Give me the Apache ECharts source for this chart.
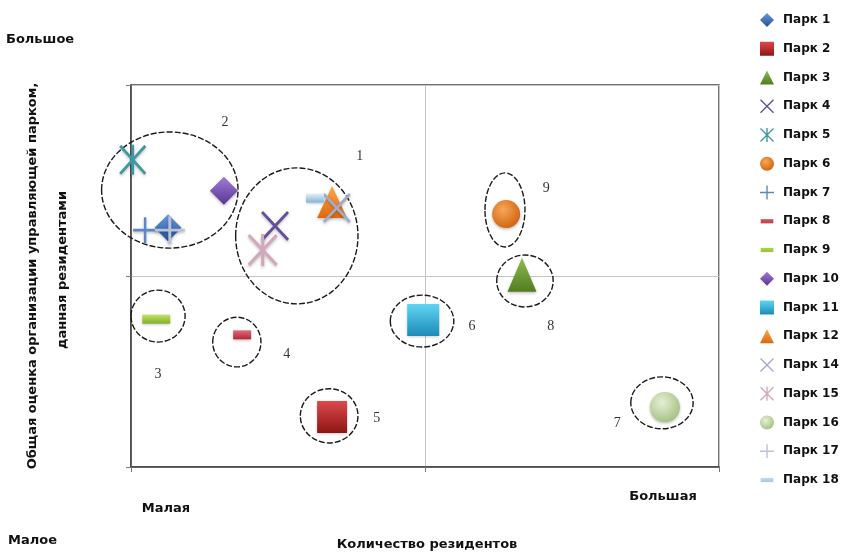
<!DOCTYPE html>
<html>
<head>
<meta charset="utf-8">
<script src="https://cdn.jsdelivr.net/npm/echarts@6/dist/echarts.min.js"></script>
<style>
  html, body { margin: 0; background: #fff; }
  #chart { width: 848px; height: 553px; }
</style>
</head>
<body>
<div id="chart"></div>
<script>
// данные: парки (x - количество резидентов, y - оценка), шкала 0..10
var parks = ['Парк 1', 'Парк 2', 'Парк 3', 'Парк 4', 'Парк 5', 'Парк 6', 'Парк 7', 'Парк 8', 'Парк 9',
  'Парк 10', 'Парк 11', 'Парк 12', 'Парк 14', 'Парк 15', 'Парк 16', 'Парк 17', 'Парк 18']
var residents = [0.63, 3.42, 6.65, 2.45, 0.03, 6.38, 0.24, 1.89, 0.43, 1.58, 4.97, 3.42, 3.50, 2.24, 9.08, 0.66, 3.13]
var rating = [6.26, 1.31, 5.03, 6.31, 8.04, 6.62, 6.20, 3.46, 3.87, 7.23, 3.85, 6.94, 6.78, 5.68, 1.57, 6.20, 7.04]

// группы (эллипсы) и их номера
var groupNames = ['1', '2', '3', '4', '5', '6', '7', '8', '9']
var groupX = [2.82, 0.66, 0.46, 1.80, 3.37, 4.95, 9.03, 6.70, 6.36]
var groupY = [6.05, 7.25, 3.95, 3.27, 1.34, 3.82, 1.68, 4.87, 6.73]
var groupRx = [1.04, 1.16, 0.46, 0.41, 0.49, 0.54, 0.53, 0.48, 0.34]
var groupRy = [1.78, 1.52, 0.68, 0.65, 0.71, 0.68, 0.68, 0.68, 0.97]
var groupLabelX = [3.89, 1.60, 0.46, 2.65, 4.18, 5.80, 8.27, 7.14, 7.06]
var groupLabelY = [8.12, 9.01, 2.43, 2.96, 1.28, 3.69, 1.15, 3.69, 7.30]

var xTicks = [0, 5, 10]

function lin (c1, c2) {
  return { type: 'linear', x: 0, y: 0, x2: 0, y2: 1, colorStops: [{ offset: 0, color: c1 }, { offset: 1, color: c2 }] }
}
function rad (c1, c2) {
  return { type: 'radial', x: 0.4, y: 0.35, r: 0.7, colorStops: [{ offset: 0, color: c1 }, { offset: 1, color: c2 }] }
}

var X = 'path://M1.4,0L10,8.6L18.6,0L20,1.4L11.4,10L20,18.6L18.6,20L10,11.4L1.4,20L0,18.6L8.6,10L0,1.4Z'
var STAR = X + 'M9,0L11,0L11,20L9,20Z'
var PLUS = 'path://M9,0L11,0L11,9L20,9L20,11L11,11L11,20L9,20L9,11L0,11L0,9L9,9Z'
var DASH = 'path://M0,0M20,20M1,7L19,7L19,13L1,13Z'

// оформление маркеров по паркам
var looks = [
  { symbol: 'diamond', size: 27, color: lin('#6a9be0', '#1f4f96') },
  { symbol: 'rect', size: [30, 32], color: lin('#dc4a4a', '#8e1515') },
  { symbol: 'triangle', size: [29, 34], color: lin('#8fbb4c', '#527c22') },
  { symbol: X, size: [28, 30], color: '#64509a' },
  { symbol: STAR, size: [27, 30], color: '#3f98a4' },
  { symbol: 'circle', size: 28, color: rad('#f7a65a', '#cf620c') },
  { symbol: PLUS, size: [24, 26], color: '#5f86c4' },
  { symbol: 'rect', size: [18, 9], color: lin('#e46876', '#b02838'), icon: DASH },
  { symbol: 'rect', size: [28, 9], color: lin('#bde468', '#84ae28'), icon: DASH },
  { symbol: 'diamond', size: 28, color: lin('#a07ad6', '#5a3694') },
  { symbol: 'rect', size: 32, color: lin('#62d4f2', '#1a8cb8') },
  { symbol: 'triangle', size: [30, 32], color: lin('#fbaa48', '#de680e') },
  { symbol: X, size: [28, 30], color: '#a3aacb' },
  { symbol: STAR, size: [30, 32], color: '#d4a8ba' },
  { symbol: 'circle', size: 30, color: rad('#e6f0d6', '#a3bf80') },
  { symbol: PLUS, size: [30, 28], color: '#bac2da' },
  { symbol: 'rect', size: [18, 9], color: lin('#dff0fa', '#86b4d6'), icon: DASH }
]

var font = '"DejaVu Sans", "Liberation Sans", sans-serif'
var ink = '#111'

var series = [{
  type: 'custom',
  silent: true,
  data: groupNames.map(function (n, i) {
    return [groupX[i], groupY[i], groupRx[i], groupRy[i], groupLabelX[i], groupLabelY[i]]
  }),
  renderItem: function (params, api) {
    var c = api.coord([api.value(0), api.value(1)])
    var s = api.size([api.value(2), api.value(3)])
    var l = api.coord([api.value(4), api.value(5)])
    return {
      type: 'group',
      children: [
        { type: 'ellipse', shape: { cx: c[0], cy: c[1], rx: s[0], ry: s[1] },
          style: { fill: 'none', stroke: '#1a1a1a', lineWidth: 1.4, lineDash: [6, 2] } },
        { type: 'text', x: l[0], y: l[1],
          style: { text: groupNames[params.dataIndex], fill: '#333', font: '14px "Liberation Serif", "DejaVu Serif", serif', align: 'center', verticalAlign: 'middle' } }
      ]
    }
  }
}]

parks.forEach(function (name, i) {
  var lk = looks[i]
  series.push({
    name: name,
    type: 'scatter',
    symbol: lk.symbol,
    symbolSize: lk.size,
    itemStyle: {
      color: lk.color,
      opacity: 1,
      shadowBlur: 3,
      shadowOffsetY: 1.5,
      shadowColor: 'rgba(0,0,0,0.25)'
    },
    data: [[residents[i], rating[i]]]
  })
})

var chart = echarts.init(document.getElementById('chart'))
chart.setOption({
  backgroundColor: '#fff',
  animation: false,
  grid: {
    left: 131, right: 129, top: 85, bottom: 86,
    show: true, borderColor: '#444', borderWidth: 1.5
  },
  xAxis: {
    type: 'value', min: xTicks[0], max: xTicks[2], interval: xTicks[1],
    axisLabel: { show: false },
    axisLine: { show: true, lineStyle: { color: '#444', width: 1.5 } },
    axisTick: { show: true, length: 5, lineStyle: { color: '#777' } },
    splitLine: { show: true, lineStyle: { color: '#c4c4c4', width: 1 } }
  },
  yAxis: {
    type: 'value', min: xTicks[0], max: xTicks[2], interval: xTicks[1],
    axisLabel: { show: false },
    axisLine: { show: true, lineStyle: { color: '#444', width: 1.5 } },
    axisTick: { show: true, length: 5, lineStyle: { color: '#777' } },
    splitLine: { show: true, lineStyle: { color: '#c4c4c4', width: 1 } }
  },
  legend: {
    orient: 'vertical',
    left: 755,
    top: 8,
    itemWidth: 14,
    itemHeight: 14,
    itemGap: 14.75,
    textStyle: { fontFamily: font, fontWeight: 'bold', fontSize: 12, color: ink, padding: [0, 0, 0, 4] },
    data: parks.map(function (name, i) {
      return looks[i].icon ? { name: name, icon: looks[i].icon } : { name: name }
    })
  },
  graphic: [
    { type: 'text', left: 6, top: 33, style: { text: 'Большое', font: 'bold 13px ' + font, fill: ink } },
    { type: 'text', left: 8, top: 534, style: { text: 'Малое', font: 'bold 13px ' + font, fill: ink } },
    { type: 'text', x: 166, y: 509, style: { text: 'Малая', font: 'bold 13px ' + font, fill: ink, align: 'center', verticalAlign: 'middle' } },
    { type: 'text', x: 663, y: 497, style: { text: 'Большая', font: 'bold 13px ' + font, fill: ink, align: 'center', verticalAlign: 'middle' } },
    { type: 'text', x: 427, y: 545, style: { text: 'Количество резидентов', font: 'bold 13px ' + font, fill: ink, align: 'center', verticalAlign: 'middle' } },
    { type: 'text', x: 33, y: 276, rotation: Math.PI / 2, style: { text: 'Общая оценка организации управляющей парком,', font: 'bold 13px ' + font, fill: ink, align: 'center', verticalAlign: 'middle' } },
    { type: 'text', x: 63, y: 270, rotation: Math.PI / 2, style: { text: 'данная резидентами', font: 'bold 13px ' + font, fill: ink, align: 'center', verticalAlign: 'middle' } }
  ],
  series: series
})
</script>
</body>
</html>
